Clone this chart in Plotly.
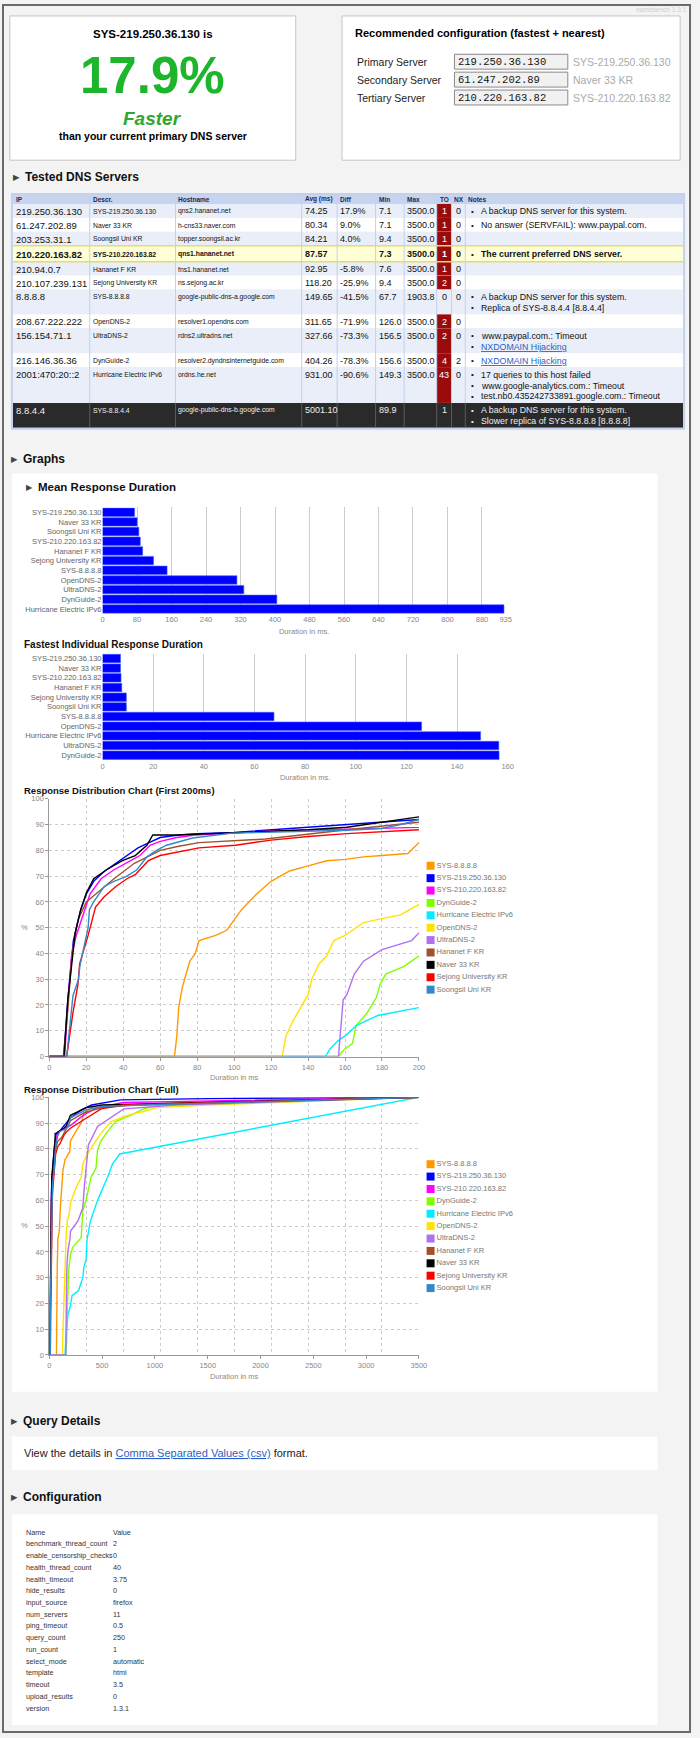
import plotly.graph_objects as go

# ---------------- DATA ----------------
fastest_name = "SYS-219.250.36.130"
faster_pct = "17.9%"

rec_labels = ["Primary Server", "Secondary Server", "Tertiary Server"]
rec_ips = ["219.250.36.130", "61.247.202.89", "210.220.163.82"]
rec_names = ["SYS-219.250.36.130", "Naver 33 KR", "SYS-210.220.163.82"]

table_header = ["IP", "Descr.", "Hostname", "Avg (ms)", "Diff", "Min", "Max", "TO", "NX", "Notes"]
srv_ip = ["219.250.36.130", "61.247.202.89", "203.253.31.1", "210.220.163.82", "210.94.0.7",
          "210.107.239.131", "8.8.8.8", "208.67.222.222", "156.154.71.1", "216.146.36.36",
          "2001:470:20::2", "8.8.4.4"]
srv_descr = ["SYS-219.250.36.130", "Naver 33 KR", "Soongsil Uni KR", "SYS-210.220.163.82",
             "Hananet F KR", "Sejong University KR", "SYS-8.8.8.8", "OpenDNS-2", "UltraDNS-2",
             "DynGuide-2", "Hurricane Electric IPv6", "SYS-8.8.4.4"]
srv_host = ["qns2.hananet.net", "h-cns33.naver.com", "topper.soongsil.ac.kr", "qns1.hananet.net",
            "fns1.hananet.net", "ns.sejong.ac.kr", "google-public-dns-a.google.com",
            "resolver1.opendns.com", "rdns2.ultradns.net", "resolver2.dyndnsinternetguide.com",
            "ordns.he.net", "google-public-dns-b.google.com"]
srv_avg = ["74.25", "80.34", "84.21", "87.57", "92.95", "118.20", "149.65", "311.65", "327.66",
           "404.26", "931.00", "5001.10"]
srv_diff = ["17.9%", "9.0%", "4.0%", "", "-5.8%", "-25.9%", "-41.5%", "-71.9%", "-73.3%",
            "-78.3%", "-90.6%", ""]
srv_min = ["7.1", "7.1", "9.4", "7.3", "7.6", "9.4", "67.7", "126.0", "156.5", "156.6", "149.3", "89.9"]
srv_max = ["3500.0", "3500.0", "3500.0", "3500.0", "3500.0", "3500.0", "1903.8", "3500.0",
           "3500.0", "3500.0", "3500.0", ""]
srv_to = ["1", "1", "1", "1", "1", "2", "0", "2", "2", "4", "43", "1"]
srv_nx = ["0", "0", "0", "0", "0", "0", "0", "0", "0", "2", "0", ""]
srv_notes = [
    ["A backup DNS server for this system."],
    ["No answer (SERVFAIL): www.paypal.com."],
    [],
    ["The current preferred DNS server."],
    [],
    [],
    ["A backup DNS server for this system.", "Replica of SYS-8.8.4.4 [8.8.4.4]"],
    [],
    ["www.paypal.com.: Timeout", "NXDOMAIN Hijacking"],
    ["NXDOMAIN Hijacking"],
    ["17 queries to this host failed", "www.google-analytics.com.: Timeout",
     "test.nb0.435242733891.google.com.: Timeout"],
    ["A backup DNS server for this system.", "Slower replica of SYS-8.8.8.8 [8.8.8.8]"],
]
link_notes = ["NXDOMAIN Hijacking"]
current_row = 3
failed_row = 11

mean_names = ["SYS-219.250.36.130", "Naver 33 KR", "Soongsil Uni KR", "SYS-210.220.163.82",
              "Hananet F KR", "Sejong University KR", "SYS-8.8.8.8", "OpenDNS-2", "UltraDNS-2",
              "DynGuide-2", "Hurricane Electric IPv6"]
mean_ms = [74.25, 80.34, 84.21, 87.57, 92.95, 118.20, 149.65, 311.65, 327.66, 404.26, 931.00]
mean_ticks = [0, 80, 160, 240, 320, 400, 480, 560, 640, 720, 800, 880, 935]

fast_names = ["SYS-219.250.36.130", "Naver 33 KR", "SYS-210.220.163.82", "Hananet F KR",
              "Sejong University KR", "Soongsil Uni KR", "SYS-8.8.8.8", "OpenDNS-2",
              "Hurricane Electric IPv6", "UltraDNS-2", "DynGuide-2"]
fast_ms = [7.1, 7.1, 7.3, 7.6, 9.4, 9.4, 67.7, 126.0, 149.3, 156.5, 156.6]
fast_ticks = [0, 20, 40, 60, 80, 100, 120, 140, 160]

# response distribution (cumulative %) per server
sys8888_ms = [0, 67.7, 69, 70, 72, 76, 79, 81, 90, 96, 104, 112, 120, 130, 140, 150, 160, 170, 180, 194, 200, 240, 300, 333, 395, 700, 1500, 3500]
sys8888_pct = [0, 0, 8, 19, 27, 37, 40, 45, 47, 49, 57, 63, 68, 72, 74, 76, 76.5, 77.5, 78, 78.8, 83, 86, 90, 94, 96, 97, 98, 100]
sys219_ms = [0, 7.8, 10, 13, 17, 20, 24, 30, 36, 42, 48, 54, 60, 70, 80, 100, 120, 140, 160, 180, 200, 300, 400, 675, 1500, 3500]
sys219_pct = [0, 0, 22, 45, 57, 63, 68, 72, 75, 78, 81, 83, 85, 86, 86.5, 87, 88, 89, 90, 91, 92, 95, 97, 99, 99.5, 100]
sys210_ms = [0, 8.3, 10, 12, 14.6, 19, 22, 28, 35, 44, 49, 54.5, 60, 69, 79, 120, 161, 200, 320, 450, 700, 3500]
sys210_pct = [0, 0, 20, 39, 47, 56, 63, 69, 72.5, 76, 78, 82, 83.5, 85, 86, 87.5, 88.4, 89, 93, 96, 98, 100]
dynguide_ms = [0, 156.6, 158, 160, 164, 166, 172, 177, 179, 182, 192, 200, 224, 302, 317, 348, 395, 442, 457, 488, 551, 628, 768, 893, 1048, 3500]
dynguide_pct = [0, 0, 1.5, 3, 5, 12, 17, 23, 28, 32, 35, 39, 42, 45.5, 56, 60, 69, 72.5, 79.6, 83, 86.7, 90.6, 93, 95.5, 97, 100]
hurricane_ms = [0, 149.3, 152, 156, 161, 166, 172, 178, 182, 200, 215, 277, 317, 327, 348, 358, 389, 457, 551, 597, 666, 3500]
hurricane_pct = [0, 0, 3, 6, 8.5, 12, 14, 16, 16.5, 19, 23, 25, 30, 34, 37, 45, 52, 60, 69, 74, 78, 100]
opendns_ms = [0, 126, 128, 132, 136, 140, 142, 146, 150, 154, 160, 170, 180, 190, 200, 255, 302, 317, 358, 426, 488, 582, 737, 893, 1017, 1500, 3500]
opendns_pct = [0, 0, 8, 14, 19, 24, 30, 36, 39, 45, 47, 52, 53.5, 55, 59, 65, 69, 74, 78, 82, 86, 90.5, 93, 94.5, 96, 97, 100]
ultradns_ms = [0, 156.5, 157, 158, 159, 161, 165, 170, 180, 196, 200, 271, 317, 333, 348, 370, 457, 582, 706, 1200, 3500]
ultradns_pct = [0, 0, 5, 15, 22, 24, 32, 37, 41.5, 45, 48, 52, 57, 66, 72.5, 81.5, 88.7, 92, 95.5, 97, 100]
hananet_ms = [0, 7.6, 10, 12.3, 15.5, 20, 25, 35, 46, 49, 60, 70, 81, 117, 161, 200, 330, 500, 800, 3500]
hananet_pct = [0, 0, 18, 40, 53, 60, 63, 69, 75, 76, 80, 81.6, 83, 84.4, 88, 90.9, 94, 96, 97, 100]
naver_ms = [0, 8, 10, 14, 17, 20, 24, 31, 39.5, 46.5, 52.8, 56, 69, 100, 140, 161, 180, 200, 350, 500, 1000, 3500]
naver_pct = [0, 0, 22, 48, 57, 63.5, 69, 72.5, 76, 78, 82, 86, 86, 87, 88, 89, 91, 93, 96, 97, 97.5, 100]
sejong_ms = [0, 9.4, 12.8, 15.5, 16.4, 21, 25, 29.7, 36, 42, 46.5, 53.6, 60, 74, 81, 100.7, 120, 140, 161, 200, 300, 490, 700, 3500]
sejong_pct = [0, 0, 17, 28, 36, 47, 58, 62, 66, 69, 70.6, 76, 78, 80, 81, 82, 84, 85.4, 86.5, 88, 90.6, 95.5, 97, 100]
soongsil_ms = [0, 9.4, 12.8, 15.8, 16.5, 19, 21, 21.7, 24, 29.7, 35, 42, 47.4, 52.8, 58, 63.4, 77.6, 99, 161, 180, 190, 200, 340, 500, 900, 3500]
soongsil_pct = [0, 0, 23.6, 30, 35, 44, 50, 57, 60, 66, 68, 70, 72.5, 77.5, 80, 82, 84.8, 86.7, 87.8, 88.5, 90, 92, 95, 96.5, 97, 100]

dist_names = ["SYS-8.8.8.8", "SYS-219.250.36.130", "SYS-210.220.163.82", "DynGuide-2",
              "Hurricane Electric IPv6", "OpenDNS-2", "UltraDNS-2", "Hananet F KR",
              "Naver 33 KR", "Sejong University KR", "Soongsil Uni KR"]
dist_ms = [sys8888_ms, sys219_ms, sys210_ms, dynguide_ms, hurricane_ms, opendns_ms,
           ultradns_ms, hananet_ms, naver_ms, sejong_ms, soongsil_ms]
dist_pct = [sys8888_pct, sys219_pct, sys210_pct, dynguide_pct, hurricane_pct, opendns_pct,
            ultradns_pct, hananet_pct, naver_pct, sejong_pct, soongsil_pct]

dist1_xticks = [0, 20, 40, 60, 80, 100, 120, 140, 160, 180, 200]
dist2_xgrid = [0, 350, 700, 1050, 1400, 1750, 2100, 2450, 2800, 3150, 3500]
dist2_xticks = [0, 500, 1000, 1500, 2000, 2500, 3000, 3500]
pct_ticks = [0, 10, 20, 30, 40, 50, 60, 70, 80, 90, 100]

config_names = ["Name", "benchmark_thread_count", "enable_censorship_checks", "health_thread_count",
                "health_timeout", "hide_results", "input_source", "num_servers", "ping_timeout",
                "query_count", "run_count", "select_mode", "template", "timeout",
                "upload_results", "version"]
config_values = ["Value", "2", "0", "40", "3.75", "0", "firefox", "11", "0.5", "250", "1",
                 "automatic", "html", "3.5", "0", "1.3.1"]

# ---------------- STYLE ----------------
W, H = 700, 1738
FONT = "Liberation Sans, Arial, sans-serif"
MONO = "Liberation Mono, DejaVu Sans Mono, monospace"
series_colors = ["#ff9900", "#0000ff", "#ff00ff", "#80ff00", "#00eeff", "#ffe300",
                 "#b070f0", "#a0522d", "#000000", "#ff0000", "#3388cc"]
GRID_DASH = "3px,3px"


def px(x):
    return x / W


def py(y):
    return 1 - y / H


shapes = []
anns = []


def rect(x0, y0, x1, y1, fill=None, line=None, lw=1, layer="below"):
    shapes.append(dict(type="rect", xref="paper", yref="paper",
                       x0=px(x0), x1=px(x1), y0=py(y1), y1=py(y0),
                       fillcolor=fill or "rgba(0,0,0,0)",
                       line=dict(color=line or "rgba(0,0,0,0)", width=lw if line else 0),
                       layer=layer))


def hline(x0, x1, y, color, lw=1, layer="below"):
    shapes.append(dict(type="line", xref="paper", yref="paper", x0=px(x0), x1=px(x1),
                       y0=py(y), y1=py(y), line=dict(color=color, width=lw), layer=layer))


def vline(x, y0, y1, color, lw=1, layer="below"):
    shapes.append(dict(type="line", xref="paper", yref="paper", x0=px(x), x1=px(x),
                       y0=py(y0), y1=py(y1), line=dict(color=color, width=lw), layer=layer))


def text(x, y, s, size=10, color="#000", anchor="left", bold=False, italic=False, family=FONT):
    if bold:
        s = "<b>" + s + "</b>"
    if italic:
        s = "<i>" + s + "</i>"
    anns.append(dict(x=px(x), y=py(y), xref="paper", yref="paper", text=s, showarrow=False,
                     xanchor=anchor, yanchor="middle", borderpad=0,
                     font=dict(size=size, color=color, family=family)))


def heading(x, y, s, size=12):
    text(x, y, "\u25B6", size=size * 0.7, color="#444", family="DejaVu Sans")
    text(x + 12, y, s, size=size, bold=True, color="#111")


# page frame
rect(1, 1, 698, 1737, fill=None, line="#6a6a6a", lw=2, layer="above")
text(696, 6, "namebench 1.3.1", size=6.5, color="#cfcfcf", anchor="right")

# -------- top summary boxes --------
rect(8, 12, 298, 157, fill="white", line="#c4c4c4")
text(153, 30, fastest_name + " is", size=11.5, bold=True, anchor="center")
text(153, 72, faster_pct, size=51, bold=True, color="#1db52c", anchor="center")
text(153, 115, "Faster", size=19, bold=True, italic=True, color="#33a532", anchor="center")
text(153, 133, "than your current primary DNS server", size=10.5, bold=True, anchor="center")

rect(345, 12, 688, 157, fill="white", line="#c4c4c4")
text(357, 29, "Recommended configuration (fastest + nearest)", size=11, bold=True)
for i, (lab, ip, nm) in enumerate(zip(rec_labels, rec_ips, rec_names)):
    yy = 58 + i * 18
    text(359, yy, lab, size=10.5, color="#222")
    rect(459, yy - 7.5, 574, yy + 7.5, fill="#f1f1f1", line="#8a8a8a")
    text(462, yy, ip, size=10.5, color="#111", family=MONO)
    text(578, yy, nm, size=10.5, color="#aaaaaa")

# -------- tested DNS servers table --------
heading(10, 174, "Tested DNS Servers")
col_x = [11, 89, 176, 304, 340, 379, 408, 441, 456, 470, 691]
tbl_top, hdr_h, line_h = 192, 9, 11
rows = []
yc = tbl_top + hdr_h
for i, nts in enumerate(srv_notes):
    n = max(1, len(nts))
    h = 3 + line_h * n + (2 if i == current_row else 0)
    rows.append((yc, yc + h))
    yc += h
tbl_bot = yc

rect(col_x[0], tbl_top, col_x[-1], tbl_top + hdr_h, fill="#c6d4ef")
for i, (y0, y1) in enumerate(rows):
    if i == failed_row:
        fill = "#2a2a2a"
    elif i == current_row:
        fill = "#ffffd6"
    elif i % 2 == 0:
        fill = "#e9eef8"
    else:
        fill = "#ffffff"
    rect(col_x[0], y0, col_x[-1], y1, fill=fill)
    if i != failed_row and int(srv_to[i]) > 0:
        rect(col_x[7], y0, col_x[8], y1, fill="#9b0b0b")
fail_top = rows[failed_row][0]
for cx in col_x[1:-1]:
    vline(cx, tbl_top, fail_top, "#c3d1ee")
    vline(cx, fail_top, tbl_bot, "#5a5a5a")
y0c, y1c = rows[current_row]
hline(col_x[0], col_x[-1], y0c, "#e2dc78", lw=1.5)
hline(col_x[0], col_x[-1], y1c, "#e2dc78", lw=1.5)
rect(col_x[0] - 1, tbl_top - 1, col_x[-1] + 1, tbl_bot + 1, line="#c3d1ee", lw=2)

for j, hdr in enumerate(table_header):
    text(col_x[j] + 2, tbl_top + hdr_h / 2, hdr, size=6.5, bold=True, color="#1e2a50")

cols = [srv_ip, srv_descr, srv_host, srv_avg, srv_diff, srv_min, srv_max, srv_to, srv_nx]
col_sizes = [9.5, 6.8, 6.8, 9, 9, 9, 9, 9, 9]
for i, (y0, y1) in enumerate(rows):
    ty = y0 + 7.5 + (1 if i == current_row else 0)
    bold = i == current_row
    base = "#eeeeee" if i == failed_row else "#111111"
    for j, col in enumerate(cols):
        val = col[i]
        if val == "":
            continue
        color = base
        if j == 7 and i != failed_row and int(val) > 0:
            color = "#ffffff"
        if j >= 7:
            text((col_x[j] + col_x[j + 1]) / 2, ty, val, size=col_sizes[j], color=color,
                 anchor="center", bold=bold)
        else:
            text(col_x[j] + 2, ty, val, size=col_sizes[j], color=color, bold=bold)
    for k, note in enumerate(srv_notes[i]):
        ny = ty + k * line_h
        text(col_x[9] + 5, ny, "\u2022", size=8, color=base)
        if note in link_notes:
            s = '<span style="text-decoration:underline">' + note + "</span>"
            text(col_x[9] + 15, ny, s, size=8.8, color="#2a62c8")
        else:
            text(col_x[9] + 15, ny, note, size=8.8, color=base, bold=bold)

# -------- graphs section --------
heading(8, 457, "Graphs")
rect(10, 472, 665, 1395, fill="white")
heading(23, 486, "Mean Response Duration", size=11.5)
text(21, 644, "Fastest Individual Response Duration", size=10, bold=True, color="#111")
text(21, 791, "Response Distribution Chart (First 200ms)", size=9.5, bold=True, color="#111")
text(21, 1091, "Response Distribution Chart (Full)", size=9.5, bold=True, color="#111")
text(23, 928, "%", size=7.5, color="#888", anchor="center")
text(23, 1228, "%", size=7.5, color="#888", anchor="center")

# -------- query details / configuration --------
heading(8, 1424, "Query Details")
rect(10, 1440, 665, 1474, fill="white")
text(21, 1457, 'View the details in <span style="text-decoration:underline;color:#2a62c8">'
     'Comma Separated Values (csv)</span> format.', size=11, color="#222")
heading(8, 1501, "Configuration")
rect(10, 1518, 665, 1730, fill="white")
for k, (nm, vl) in enumerate(zip(config_names, config_values)):
    yy = 1536 + k * 11.8
    text(23, yy, nm, size=7.2, color="#333")
    text(112, yy, vl, size=7.2, color="#333")

# ---------------- TRACES ----------------
fig = go.Figure()
fig.add_trace(go.Bar(x=mean_ms, y=mean_names, orientation="h", xaxis="x", yaxis="y",
                     marker=dict(color="#0000ff", line=dict(color="#3f5cff", width=0.6)),
                     showlegend=False, hoverinfo="skip"))
fig.add_trace(go.Bar(x=fast_ms, y=fast_names, orientation="h", xaxis="x2", yaxis="y2",
                     marker=dict(color="#0000ff", line=dict(color="#3f5cff", width=0.6)),
                     showlegend=False, hoverinfo="skip"))
for nm, xs, ys, c in zip(dist_names, dist_ms, dist_pct, series_colors):
    fig.add_trace(go.Scatter(x=xs, y=ys, mode="lines", name=nm, line=dict(color=c, width=1.4),
                             xaxis="x3", yaxis="y3", showlegend=False, hoverinfo="skip"))
for nm, xs, ys, c in zip(dist_names, dist_ms, dist_pct, series_colors):
    fig.add_trace(go.Scatter(x=xs, y=ys, mode="lines", name=nm, line=dict(color=c, width=1.4),
                             xaxis="x4", yaxis="y4", showlegend=False, hoverinfo="skip"))
fig.add_trace(go.Scatter(x=[None], y=[None], xaxis="x5", yaxis="y4", showlegend=False))
legend_idx = list(range(len(dist_names)))
for xa, ya in (("x6", "y6"), ("x7", "y7")):
    fig.add_trace(go.Scatter(x=[0.02] * len(dist_names), y=legend_idx, mode="markers+text",
                             text=dist_names, textposition="middle right",
                             textfont=dict(size=7.5, color="#777", family=FONT),
                             marker=dict(symbol="square", size=8, color=series_colors),
                             xaxis=xa, yaxis=ya, showlegend=False, hoverinfo="skip",
                             cliponaxis=False))

tickf = dict(size=7.5, color="#888", family=FONT)
titlef = dict(size=7.5, color="#888", family=FONT)


def bar_x(dom, rng, ticks):
    return dict(domain=[px(dom[0]), px(dom[1])], range=rng, tickvals=ticks, showgrid=True,
                gridcolor="#cccccc", gridwidth=1, zeroline=False, showline=False, ticks="",
                tickfont=tickf, title=dict(text="Duration in ms.", font=titlef, standoff=5),
                fixedrange=True)


def bar_y(top, bot, names):
    return dict(domain=[py(bot), py(top)], type="category", categoryorder="array",
                categoryarray=names, autorange="reversed", ticks="", showgrid=False,
                tickfont=dict(size=7.5, color="#666", family=FONT), fixedrange=True)


def dist_y(top, bot, anchor):
    return dict(domain=[py(bot), py(top)], range=[0, 100], tickvals=pct_ticks, showgrid=True,
                gridcolor="#cccccc", griddash=GRID_DASH, zeroline=False, showline=True,
                linecolor="#999", ticks="outside", ticklen=3, tickcolor="#999",
                tickfont=tickf, anchor=anchor, fixedrange=True)


fig.update_layout(
    width=W, height=H, margin=dict(l=0, r=0, t=0, b=0),
    paper_bgcolor="#f3f3f3", plot_bgcolor="white",
    font=dict(family=FONT), showlegend=False, hovermode=False, bargap=0.13,
    xaxis=bar_x((102, 511), [0, 935], mean_ticks) | dict(anchor="y"),
    yaxis=bar_y(506, 613, mean_names) | dict(anchor="x"),
    xaxis2=bar_x((102, 513), [0, 160], fast_ticks) | dict(anchor="y2"),
    yaxis2=bar_y(653, 760, fast_names) | dict(anchor="x2"),
    xaxis3=dict(domain=[px(48), px(423)], range=[0, 200], tickvals=dist1_xticks, showgrid=True,
                gridcolor="#cccccc", griddash=GRID_DASH, zeroline=False, showline=True,
                linecolor="#999", ticks="outside", ticklen=3, tickcolor="#999", tickfont=tickf,
                title=dict(text="Duration in ms", font=titlef, standoff=4), anchor="y3",
                fixedrange=True),
    yaxis3=dist_y(799, 1058, "x3"),
    xaxis4=dict(domain=[px(48), px(423)], range=[0, 3500], tickvals=dist2_xgrid, showgrid=True,
                gridcolor="#cccccc", griddash=GRID_DASH, zeroline=False, showline=True,
                linecolor="#999", ticks="", showticklabels=False, anchor="y4", fixedrange=True),
    xaxis5=dict(overlaying="x4", anchor="y4", range=[0, 3500], tickvals=dist2_xticks,
                showgrid=False, zeroline=False, showline=False, ticks="outside", ticklen=3,
                tickcolor="#999", tickfont=tickf,
                title=dict(text="Duration in ms", font=titlef, standoff=4), fixedrange=True),
    yaxis4=dist_y(1099, 1358, "x4"),
    xaxis6=dict(domain=[px(431), px(620)], range=[0, 1], visible=False, anchor="y6", fixedrange=True),
    yaxis6=dict(domain=[py(997), py(860)], range=[10.5, -0.5], visible=False, anchor="x6", fixedrange=True),
    xaxis7=dict(domain=[px(431), px(620)], range=[0, 1], visible=False, anchor="y7", fixedrange=True),
    yaxis7=dict(domain=[py(1297), py(1160)], range=[10.5, -0.5], visible=False, anchor="x7", fixedrange=True),
    shapes=shapes, annotations=anns,
)

fig.write_html("out.html", config={"displayModeBar": False, "staticPlot": True},
               post_script="document.body.style.margin='0px';document.body.style.overflow='hidden';")
